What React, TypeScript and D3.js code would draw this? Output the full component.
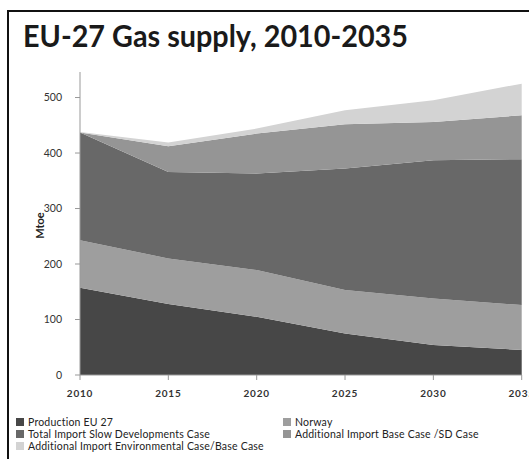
import React from "react";
import * as d3 from "d3";

const years = [2010, 2015, 2020, 2025, 2030, 2035];
const productionEU27 = [157, 128, 105, 75, 54, 45];
const norway = [86, 82, 84, 78, 84, 81];
const totalImportSD = [194, 156, 174, 219, 249, 263];
const additionalBase = [0, 46, 72, 80, 69, 79];
const additionalEnv = [1, 7, 9, 25, 39, 57];

const seriesNames = [
  "Production EU 27",
  "Norway",
  "Total Import Slow Developments Case",
  "Additional Import Base Case /SD Case",
  "Additional Import Environmental Case/Base Case",
];
const seriesColors = ["#474747", "#9e9e9e", "#686868", "#959595", "#d3d3d3"];
const yTicks = [0, 100, 200, 300, 400, 500];

export default function App() {
  const W = 529, H = 459;
  const x0 = 80, x1 = 521.7, yBase = 375, yTop = 72;
  const x = d3.scaleLinear().domain([2010, 2035]).range([x0, x1]);
  const y = d3.scaleLinear().domain([0, 546]).range([yBase, yTop]);

  const rows = years.map((yr, i) => ({
    year: yr,
    s0: productionEU27[i],
    s1: norway[i],
    s2: totalImportSD[i],
    s3: additionalBase[i],
    s4: additionalEnv[i],
  }));
  const stack = d3.stack<any>().keys(["s0", "s1", "s2", "s3", "s4"]);
  const layers = stack(rows);
  const area = d3
    .area<any>()
    .x((d) => x(d.data.year))
    .y0((d) => y(d[0]))
    .y1((d) => y(d[1]));

  const font = "Lato, 'Open Sans', sans-serif";
  const legendItems = [
    { i: 0, x: 16, y: 422 },
    { i: 2, x: 16, y: 434 },
    { i: 4, x: 16, y: 446 },
    { i: 1, x: 283, y: 422 },
    { i: 3, x: 283, y: 434 },
  ];

  return (
    <svg
      width={W}
      height={H}
      style={{ position: "absolute", left: 0, top: 0, background: "#fff" }}
    >
      <rect x={0} y={0} width={W} height={H} fill="#fff" />
      <path d={`M8,${H} L8,11 L${W},11`} fill="none" stroke="#111" strokeWidth={2} />
      <text
        x={23}
        y={47}
        fontFamily={font}
        fontWeight={700}
        fontSize={30}
        textLength={385}
        lengthAdjust="spacingAndGlyphs"
        fill="#1a1a1a"
      >
        EU-27 Gas supply, 2010-2035
      </text>
      {layers.map((layer, k) => (
        <path key={k} d={area(layer) || ""} fill={seriesColors[k]} />
      ))}
      <line x1={x0} x2={x0} y1={yTop} y2={yBase} stroke="#999" strokeWidth={1} />
      <line x1={x0} x2={x1} y1={yBase} y2={yBase} stroke="#999" strokeWidth={1} />
      {yTicks.map((t) => (
        <g key={t}>
          <line x1={x0 - 5} x2={x0} y1={y(t)} y2={y(t)} stroke="#999" />
          <text
            x={62}
            y={y(t)}
            dy="0.35em"
            textAnchor="end"
            fontFamily={font}
            fontSize={10.5}
            fill="#333"
          >
            {t}
          </text>
        </g>
      ))}
      {years.map((yr) => (
        <g key={yr}>
          <line x1={x(yr)} x2={x(yr)} y1={yBase} y2={yBase + 5} stroke="#999" />
          <text
            x={x(yr)}
            y={393}
            dy="0.35em"
            textAnchor="middle"
            fontFamily={font}
            fontWeight={700}
            fontSize={10}
            letterSpacing={0.8}
            fill="#333"
          >
            {yr}
          </text>
        </g>
      ))}
      <text
        transform={`translate(40,${(yTop + yBase) / 2 + 2}) rotate(-90)`}
        textAnchor="middle"
        dy="0.35em"
        fontFamily={font}
        fontWeight={700}
        fontSize={11}
        fill="#222"
      >
        Mtoe
      </text>
      {legendItems.map((it) => (
        <g key={it.i}>
          <rect x={it.x} y={it.y - 4} width={8} height={8} fill={seriesColors[it.i]} />
          <text
            x={it.x + 12}
            y={it.y}
            dy="0.35em"
            fontFamily={font}
            fontSize={10.5}
            letterSpacing={0.2}
            fill="#222"
          >
            {seriesNames[it.i]}
          </text>
        </g>
      ))}
    </svg>
  );
}
